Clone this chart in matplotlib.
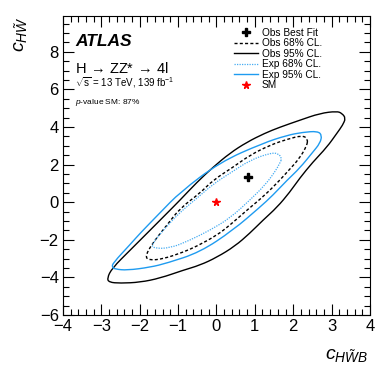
import numpy as np
import matplotlib
matplotlib.use("Agg")
import matplotlib.pyplot as plt
from matplotlib.path import Path
from matplotlib.patches import PathPatch
from matplotlib.lines import Line2D
from matplotlib.ticker import MultipleLocator

plt.rcParams['font.family'] = ['Liberation Sans', 'DejaVu Sans']
plt.rcParams['mathtext.fontset'] = 'custom'
plt.rcParams['mathtext.rm'] = 'Liberation Sans'
plt.rcParams['mathtext.it'] = 'Liberation Sans:italic'
plt.rcParams['mathtext.bf'] = 'Liberation Sans:bold'

# ---- data ----
best_fit_x = [0.82]
best_fit_y = [1.35]
sm_x = [0.0]
sm_y = [0.0]

obs95_x = [3.37, 3.27, 3.14, 2.70, 2.17, 1.65, 1.26, 0.79, 0.35, -0.09, -0.51, -0.95,
           -1.34, -1.73, -2.25, -2.72, -2.85, -2.80, -2.51, -1.99, -1.47, -0.87, -0.43,
           0.01, 0.48, 0.87, 1.21, 1.58, 1.91, 2.17, 2.51, 2.88, 3.14, 3.29]
obs95_y = [4.47, 4.73, 4.84, 4.73, 4.36, 3.99, 3.67, 3.19, 2.61, 1.86, 1.06, 0.11,
           -0.69, -1.49, -2.55, -3.51, -4.04, -4.26, -4.31, -4.26, -4.04, -3.62, -3.35,
           -2.93, -2.34, -1.65, -0.96, -0.27, 0.53, 1.28, 2.13, 2.93, 3.67, 4.10]

exp95_x = [2.75, 2.64, 2.25, 1.84, 1.21, 0.09, -0.95, -1.47, -1.99, -2.25, -2.70, -2.72,
           -2.64, -2.33, -1.73, -1.29, -0.43, 0.43, 1.13, 1.47, 1.84, 2.17, 2.51, 2.70]
exp95_y = [3.56, 3.78, 3.72, 3.56, 3.14, 2.13, 0.53, -0.56, -1.65, -2.25, -3.24, -3.46,
           -3.56, -3.62, -3.46, -3.24, -2.66, -1.49, -0.27, 0.37, 1.17, 1.81, 2.66, 3.14]

obs68_x = [2.38, 2.25, 1.84, 1.39, 0.87, 0.43, -0.09, -0.43, -0.95, -1.29, -1.65, -1.86,
           -1.76, -1.39, -0.87, -0.51, 0.01, 0.35, 0.79, 1.26, 1.65, 1.84, 2.17, 2.36]
obs68_y = [3.35, 3.56, 3.35, 3.03, 2.50, 1.86, 1.17, 0.48, -0.32, -1.22, -2.13, -2.87,
           -3.09, -3.02, -2.66, -2.34, -1.76, -1.22, -0.43, 0.37, 1.17, 1.60, 2.34, 3.03]

exp68_x = [1.71, 1.60, 1.39, 0.87, 0.35, -0.09, -0.51, -0.95, -1.39, -1.68, -1.65, -1.21,
           -0.69, -0.17, 0.35, 0.87, 1.26, 1.52, 1.65]
exp68_y = [2.34, 2.61, 2.61, 2.23, 1.54, 0.96, 0.21, -0.53, -1.49, -2.23, -2.45, -2.45,
           -2.02, -1.49, -0.85, 0.11, 0.90, 1.60, 2.07]

x_ticks = [-4, -3, -2, -1, 0, 1, 2, 3, 4]
y_ticks = [-6, -4, -2, 0, 2, 4, 6, 8]


def closed_smooth_path(xs, ys):
    # quadratic B-spline rendering of a closed polygon (control points = data points)
    pts = np.column_stack([xs, ys])
    n = len(pts)
    mids = (pts + np.roll(pts, -1, axis=0)) / 2.0
    verts = [mids[-1]]
    codes = [Path.MOVETO]
    for i in range(n):
        verts += [pts[i], mids[i]]
        codes += [Path.CURVE3, Path.CURVE3]
    return Path(verts, codes)


fig = plt.figure(figsize=(3.9, 3.75), dpi=100)
ax = fig.add_axes([0.1615, 0.16, 0.787, 0.797])

blue = '#1E9BF0'
blue_light = '#46ACF2'
dash = (0, (2.2, 1.6))
dot = (0, (1, 1))
styles = [
    (obs95_x, obs95_y, dict(color='black', lw=1.0, ls='-')),
    (exp95_x, exp95_y, dict(color=blue, lw=1.0, ls='-')),
    (obs68_x, obs68_y, dict(color='black', lw=1.0, ls=dash)),
    (exp68_x, exp68_y, dict(color=blue_light, lw=0.9, ls=dot)),
]
for xs, ys, st in styles:
    p = closed_smooth_path(xs, ys)
    ax.add_patch(PathPatch(p, fill=False, edgecolor=st['color'], lw=st['lw'], ls=st['ls']))

ax.plot(best_fit_x, best_fit_y, marker='P', color='black', ms=5.5, ls='none')
ax.plot(sm_x, sm_y, marker='*', color='red', ms=5.5, ls='none')

ax.set_xlim(-4, 4)
ax.set_ylim(-6, 9.9)
ax.set_xticks(x_ticks)
ax.set_yticks(y_ticks)
ax.set_xticklabels([str(v).replace('-', '\u2212') for v in x_ticks])
ax.set_yticklabels([str(v).replace('-', '\u2212') for v in y_ticks])
ax.xaxis.set_minor_locator(MultipleLocator(0.2))
ax.yaxis.set_minor_locator(MultipleLocator(0.5))
ax.tick_params(which='both', direction='in', top=True, right=True, labelsize=12, pad=3)
ax.tick_params(which='major', length=8, width=0.8)
ax.tick_params(which='minor', length=4, width=0.8)
for s in ax.spines.values():
    s.set_linewidth(0.8)

fig.text(0.945, 0.03, r'$c_{H\tilde{W}B}$', ha='right', va='bottom', fontsize=14)
fig.text(0.03, 0.955, r'$c_{H\tilde{W}}$', ha='left', va='top', fontsize=14, rotation=90)

ax.text(0.04, 0.916, 'ATLAS', transform=ax.transAxes, fontsize=12.5, fontweight='bold',
        fontstyle='italic', va='center')
ax.text(0.04, 0.826, r'H$\,\rightarrow\,$ZZ*$\,\rightarrow\,$4l', transform=ax.transAxes,
        fontsize=10.5, va='center')
ax.text(0.04, 0.776, r'$\sqrt{\mathrm{s}}$ = 13 TeV, 139 fb$^{-1}$', transform=ax.transAxes,
        fontsize=7, va='center')
ax.text(0.04, 0.712, r'$p$-value SM: 87%', transform=ax.transAxes, fontsize=6, va='center')

handles = [
    Line2D([], [], marker='P', color='black', ms=5.5, ls='none'),
    Line2D([], [], color='black', lw=1.0, ls=dash),
    Line2D([], [], color='black', lw=1.0, ls='-'),
    Line2D([], [], color=blue_light, lw=0.9, ls=dot),
    Line2D([], [], color=blue, lw=1.0, ls='-'),
    Line2D([], [], marker='*', color='red', ms=5.5, ls='none'),
]
labels = ['Obs Best Fit', 'Obs 68% CL.', 'Obs 95% CL.', 'Exp 68% CL.', 'Exp 95% CL.', 'SM']
ax.legend(handles, labels, loc='upper left', bbox_to_anchor=(0.545, 0.975), frameon=False,
          fontsize=7.3, handlelength=2.3, handletextpad=0.4, labelspacing=0.05,
          borderaxespad=0)

fig.savefig('out.png', dpi=100)
